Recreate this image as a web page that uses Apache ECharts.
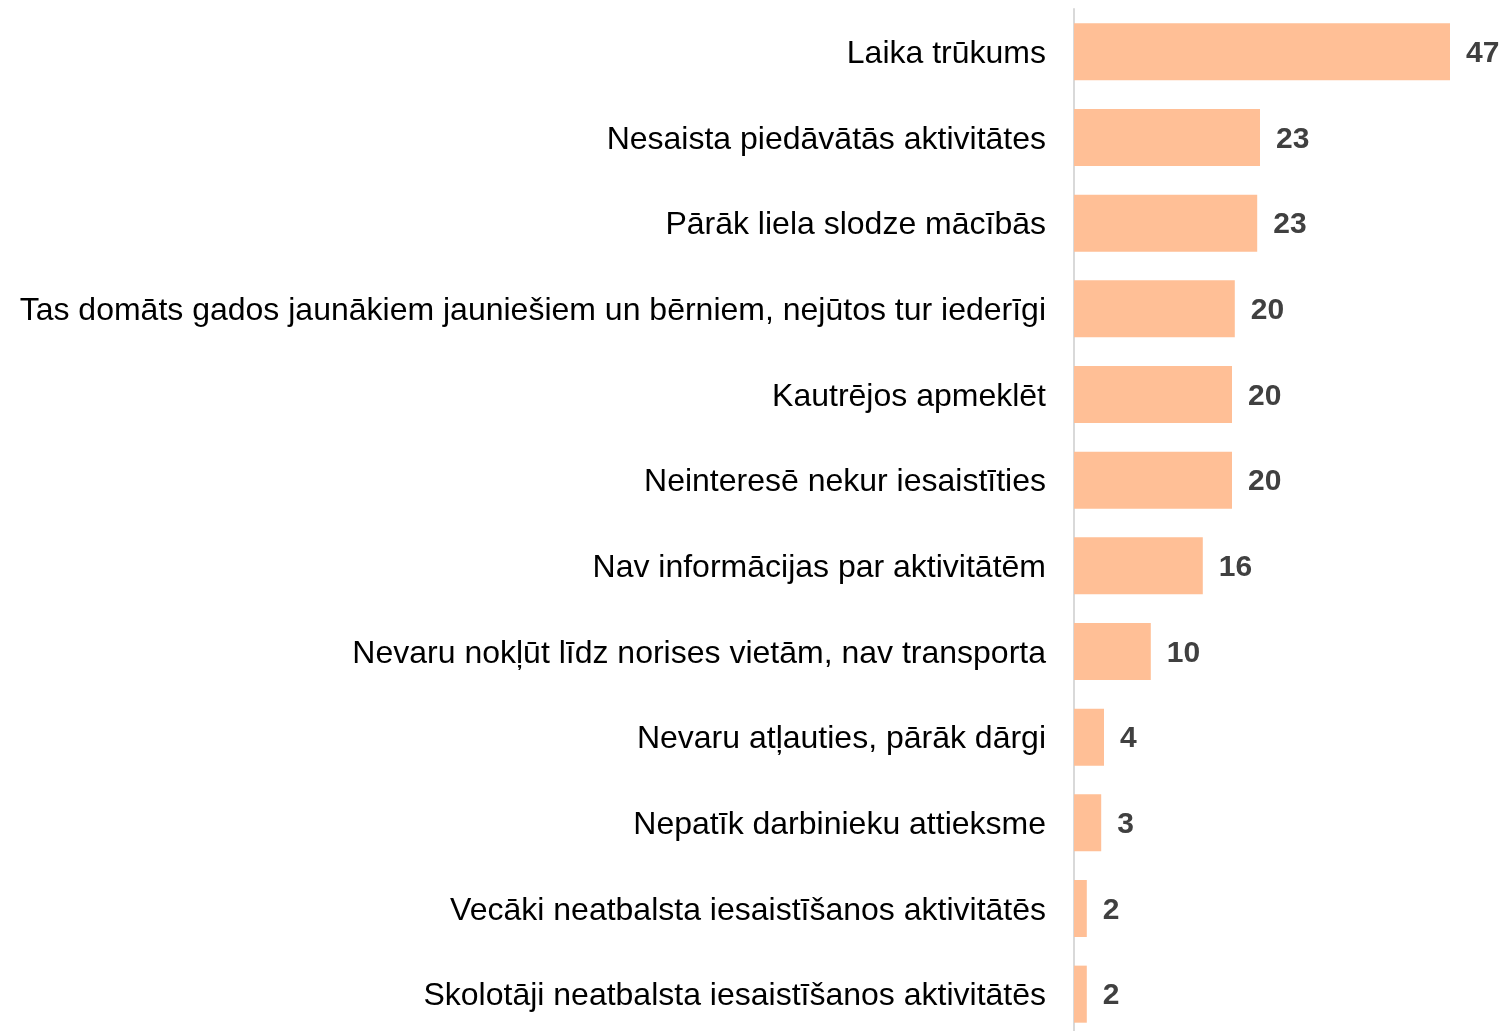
<!DOCTYPE html>
<html>
<head>
<meta charset="utf-8">
<script src="https://cdn.jsdelivr.net/npm/echarts@6/dist/echarts.min.js"></script>
<style>
  html, body { margin: 0; padding: 0; background: #fff; }
  #chart { width: 1504px; height: 1031px; }
</style>
</head>
<body>
<div id="chart"></div>
<script>
// kategorijas (no augšas uz leju)
var categories = [
  'Laika trūkums',
  'Nesaista piedāvātās aktivitātes',
  'Pārāk liela slodze mācībās',
  'Tas domāts gados jaunākiem jauniešiem un bērniem, nejūtos tur iederīgi',
  'Kautrējos apmeklēt',
  'Neinteresē nekur iesaistīties',
  'Nav informācijas par aktivitātēm',
  'Nevaru nokļūt līdz norises vietām, nav transporta',
  'Nevaru atļauties, pārāk dārgi',
  'Nepatīk darbinieku attieksme',
  'Vecāki neatbalsta iesaistīšanos aktivitātēs',
  'Skolotāji neatbalsta iesaistīšanos aktivitātēs'
]
var values = [47.0, 23.25, 22.9, 20.1, 19.75, 19.75, 16.1, 9.6, 3.75, 3.4, 1.6, 1.6]

var myChart = echarts.init(document.getElementById('chart'))

var option = {
  animation: false,
  grid: {
    left: 1074, top: 9, width: 400, height: 1028,
    containLabel: false,
    outerBoundsMode: 'none'
  },
  xAxis: {
    type: 'value',
    min: 0,
    max: 50,
    show: false
  },
  yAxis: {
    type: 'category',
    inverse: true,
    data: categories,
    axisLine: { show: true, lineStyle: { color: '#D9D9D9', width: 2 } },
    axisTick: { show: false },
    axisLabel: {
      margin: 28,
      formatter: function (v) { return '{t|' + v + '}' },
      rich: {
        t: {
          color: '#000',
          fontSize: 32,
          padding: [5, 0, 0, 0],
          fontFamily: 'Liberation Sans, Arial, sans-serif'
        }
      }
    }
  },
  series: [{
    type: 'bar',
    data: values,
    barCategoryGap: '33.4%',
    itemStyle: { color: '#FFBF96' },
    label: {
      show: true,
      position: 'right',
      distance: 16,
      offset: [0, 2],
      color: '#404040',
      fontSize: 30,
      fontWeight: 'bold',
      fontFamily: 'Liberation Sans, Arial, sans-serif',
      formatter: function (p) { return Math.round(p.value) }
    }
  }]
}

myChart.setOption(option)
</script>
</body>
</html>
